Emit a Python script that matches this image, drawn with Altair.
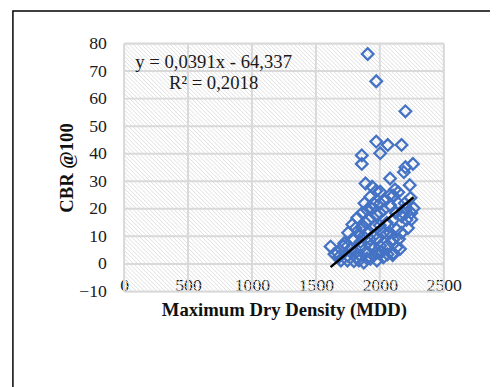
import altair as alt
import pandas as pd
import numpy as np

# ---- data ----
mdd = [1905, 1972, 2200, 1972, 2003, 2062, 2170, 1859, 1859, 2259, 2200, 2188, 1888, 2080, 2234,
       1615, 1645, 1716, 1752, 1785, 1823, 1798, 1862, 1849, 1900, 1926, 1950, 2003, 2041, 2105,
       2144, 2264, 2246, 2220, 2170, 2157, 2101, 2016, 1977, 1926, 1862, 2003, 2054, 2080, 2105,
       2028, 1964, 1913, 2105, 2054, 2131, 2028, 2080, 2126, 2182, 2195, 2170, 1950, 1900, 1888,
       1811, 1747, 1772, 1950, 2028, 1926, 1836, 1747, 1696, 1798, 1875, 1977, 2105, 1880, 1938,
       1977, 1888, 1836, 1785, 1721, 1670, 1747, 1849, 2003, 2054, 2131, 2208, 2246, 2003, 1972,
       2118, 2080, 2144, 1820, 1860, 1900, 1990, 2060, 1680, 1920, 1960, 2090, 2150, 2240, 2210,
       1940, 2000, 1870, 1810]
cbr = [76.2, 66.3, 55.4, 44.4, 40.2, 43.2, 43.2, 39.4, 36.3, 36.3, 35.1, 33.3, 29.2, 31.0, 28.6,
       6.3, 3.6, 6.5, 11.3, 14.3, 16.7, 8.9, 13.1, 3.0, 19.6, 24.4, 22.0, 26.2, 23.0, 24.8,
       22.0, 20.2, 16.1, 13.0, 11.3, 5.4, 3.2, 4.4, 8.9, 6.5, 18.5, 18.5, 14.9, 11.3, 16.0,
       11.3, 13.7, 16.0, 8.9, 6.5, 6.0, 19.6, 21.4, 18.5, 18.5, 22.0, 17.3, 10.0, 11.3, 4.2,
       4.2, 3.0, 5.4, 3.0, 2.4, 1.8, 1.2, 1.2, 1.2, 1.0, 0.5, 1.2, 4.0, 22.0, 20.0,
       18.0, 15.0, 11.0, 9.0, 7.5, 4.0, 6.5, 8.0, 6.5, 11.0, 12.5, 16.0, 18.5, 22.0, 26.5,
       27.0, 25.0, 26.0, 2.5, 6.0, 2.0, 4.0, 3.5, 2.5, 9.0, 6.0, 8.0, 9.0, 24.0, 20.0,
       28.0, 14.0, 10.0, 13.0]
x_ticks = [0, 500, 1000, 1500, 2000, 2500]
y_ticks = [-10, 0, 10, 20, 30, 40, 50, 60, 70, 80]
slope, intercept = 0.0391, -64.337
eq_text = "y = 0,0391x  - 64,337"
r2_text = "R² = 0,2018"
x_title = "Maximum  Dry Density (MDD)"
y_title = "CBR @100"

# ---- styling ----
W, H = 325, 252
FONT = "Liberation Serif"
BLUE = "#4472C4"
GRID = "#d9d9d9"
TXT = "#1a1a1a"

xs = alt.Scale(domain=[x_ticks[0], x_ticks[-1]], nice=False, zero=False)
ys = alt.Scale(domain=[y_ticks[0], y_ticks[-1]], nice=False, zero=False)

x_axis = alt.Axis(
    values=x_ticks, format="d", grid=False, domain=False, ticks=False, tickSize=0,
    labelFlush=False, labelOverlap=False,
    labelFont=FONT, labelFontSize=18, labelColor=TXT, labelPadding=-6, labelBaseline="middle",
    title=x_title, titleFont=FONT, titleFontSize=19, titleFontWeight="bold", titleColor="#111111",
    titleX=W / 2, titleY=18, titleAlign="center", titleBaseline="middle", titleAngle=0)
y_axis = alt.Axis(
    values=y_ticks, format="d", grid=False, domain=False, ticks=False, tickSize=0,
    labelFlush=False, labelOverlap=False,
    labelFont=FONT, labelFontSize=18, labelColor=TXT, labelPadding=18,
    title=y_title, titleFont=FONT, titleFontSize=19, titleFontWeight="bold", titleColor="#111111",
    titleX=-58, titleY=H / 2, titleAlign="center", titleBaseline="middle", titleAngle=270)

df = pd.DataFrame({"MDD": mdd, "CBR": cbr})

# decorative diagonal hatching of the plot area (45 deg in pixel space)
px_x = (x_ticks[-1] - x_ticks[0]) / W
span = H * px_x
hatch_step = 4.2 * px_x
hatch = alt.Chart(alt.sequence(-span, x_ticks[-1], hatch_step, as_="k")).transform_calculate(
    xa="datum.k", xb=f"datum.k + {span}", ya=str(y_ticks[-1]), yb=str(y_ticks[0])
).mark_rule(color="#dedede", strokeWidth=1, clip=True).encode(
    x=alt.X("xa:Q", scale=xs, axis=x_axis), x2="xb:Q",
    y=alt.Y("ya:Q", scale=ys, axis=y_axis), y2="yb:Q",
)

vgrid = alt.Chart(pd.DataFrame({"v": x_ticks})).mark_rule(color=GRID, strokeWidth=2).encode(
    x=alt.X("v:Q", scale=xs, axis=x_axis)
)
hgrid = alt.Chart(pd.DataFrame({"v": y_ticks})).mark_rule(color=GRID, strokeWidth=2).encode(
    y=alt.Y("v:Q", scale=ys, axis=y_axis)
)

points = alt.Chart(df).mark_point(shape="diamond", filled=False, size=140, strokeWidth=2.3, color=BLUE, opacity=1).encode(
    x=alt.X("MDD:Q", scale=xs, axis=x_axis),
    y=alt.Y("CBR:Q", scale=ys, axis=y_axis),
)

x_lo, x_hi = min(mdd), max(mdd)
trend_df = pd.DataFrame({"MDD": [x_lo, x_hi], "CBR": [slope * x_lo + intercept, slope * x_hi + intercept]})
trend = alt.Chart(trend_df).mark_line(color="black", strokeWidth=2.5).encode(
    x=alt.X("MDD:Q", scale=xs, axis=x_axis), y=alt.Y("CBR:Q", scale=ys, axis=y_axis)
)

one = alt.Data(values=[{}])
eq = alt.Chart(one).mark_text(text=eq_text, font=FONT, fontSize=19, color=TXT, align="center", baseline="middle").encode(
    x=alt.value(91), y=alt.value(19))
r2 = alt.Chart(one).mark_text(text=r2_text, font=FONT, fontSize=19, color=TXT, align="center", baseline="middle").encode(
    x=alt.value(91), y=alt.value(40))

border = alt.Chart(one).mark_rect(fill=None, stroke="black", strokeWidth=1.5, clip=False).encode(
    x=alt.value(-113), x2=alt.value(800), y=alt.value(-33), y2=alt.value(800))

chart = alt.layer(hatch, vgrid, hgrid, points, trend, eq, r2, border).properties(
    width=W, height=H,
    padding={"left": 118, "top": 33, "right": 47, "bottom": 94},
    autosize=alt.AutoSizeParams(type="none"),
).configure_view(stroke=GRID, strokeWidth=2).configure(background="white")

chart.save("out.html", embed_options={"renderer": "svg", "actions": False})
